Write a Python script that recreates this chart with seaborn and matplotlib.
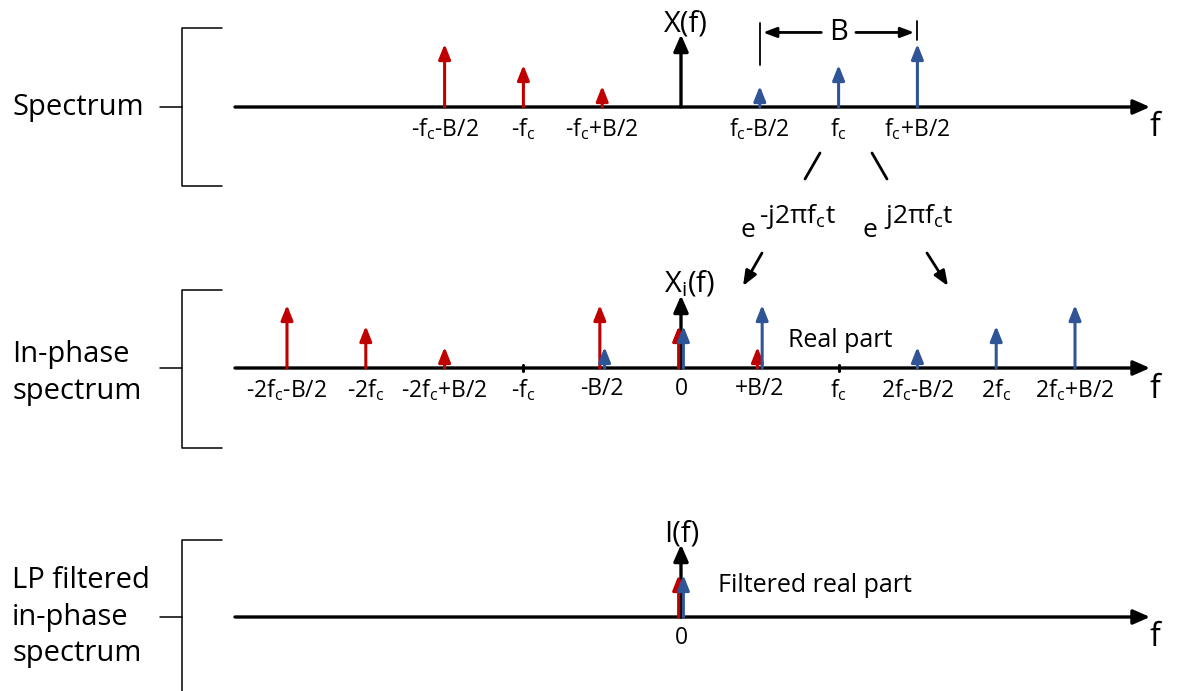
import pandas as pd
import matplotlib.pyplot as plt
import seaborn as sns

# ---------------- DATA ---------------- #
# x positions are on an index grid, one step = B/2 ; amplitudes are relative
spec_red_pos = [-3, -2, -1]
spec_red_amp = [3, 2, 1]
spec_blue_pos = [1, 2, 3]
spec_blue_amp = [1, 2, 3]
spec_tick_pos = [-3, -2, -1, 1, 2, 3]
spec_tick_lab = ['-f$_c$-B/2', '-f$_c$', '-f$_c$+B/2', 'f$_c$-B/2', 'f$_c$', 'f$_c$+B/2']

inph_red_pos = [-5, -4, -3, -1, 0, 1]
inph_red_amp = [3, 2, 1, 3, 2, 1]
inph_blue_pos = [-1, 0, 1, 3, 4, 5]
inph_blue_amp = [1, 2, 3, 1, 2, 3]
inph_tick_pos = [-5, -4, -3, -2, -1, 0, 1, 2, 3, 4, 5]
inph_tick_lab = ['-2f$_c$-B/2', '-2f$_c$', '-2f$_c$+B/2', '-f$_c$', '-B/2', '0',
                 '+B/2', 'f$_c$', '2f$_c$-B/2', '2f$_c$', '2f$_c$+B/2']
inph_minor = [-2, 2]

lp_red_pos = [0]
lp_red_amp = [2]
lp_blue_pos = [0]
lp_blue_amp = [2]
lp_tick_pos = [0]
lp_tick_lab = ['0']

panel_names = ['Spectrum', 'In-phase\nspectrum', 'LP filtered\nin-phase\nspectrum']
axis_names = ['X(f)', 'X$_i$(f)', 'I(f)']

# ---------------- STYLE ---------------- #
sns.set_theme(style="white")
plt.rcParams['font.family'] = ['Open Sans', 'DejaVu Sans']
plt.rcParams['text.color'] = 'black'
plt.rcParams['mathtext.fontset'] = 'custom'
plt.rcParams['mathtext.rm'] = 'Open Sans'
plt.rcParams['mathtext.it'] = 'Open Sans'
plt.rcParams['mathtext.bf'] = 'Open Sans:bold'

RED = '#C00000'
BLUE = '#2F5597'
W, H = 1179, 691
X0 = 681      # pixel of f = 0
UX = 78.8     # pixels per index step
UY = 21.0     # pixels per amplitude unit
baselines = [107, 368, 617]

fig = plt.figure(figsize=(W / 100, H / 100), dpi=100)

# decoration layer in pixel coordinates
deco = fig.add_axes([0, 0, 1, 1])
deco.set_xlim(0, W)
deco.set_ylim(H, 0)
deco.axis('off')


def arrow(ax, x0, y0, x1, y1, color, lw, hl=0.45, hw=0.18):
    ax.annotate('', xy=(x1, y1), xytext=(x0, y0),
                arrowprops=dict(arrowstyle=f'-|>,head_length={hl},head_width={hw}',
                                color=color, lw=lw, shrinkA=0, shrinkB=0,
                                mutation_scale=20))


def panel(yb, red_pos, red_amp, blue_pos, blue_amp, tick_pos, tick_lab, name, minor=()):
    ax = fig.add_axes([0, 0, 1, 1])
    ax.set_xlim(-X0 / UX, (W - X0) / UX)
    ax.set_ylim(-(H - yb) / UY, yb / UY)
    ax.axis('off')
    ax.patch.set_alpha(0)

    # frequency axis and amplitude axis
    arrow(ax, (235 - X0) / UX, 0, (1150 - X0) / UX, 0, 'black', 2.4, 0.5, 0.22)
    arrow(ax, 0, 0, 0, 3.45, 'black', 2.4, 0.5, 0.22)

    df = pd.concat([
        pd.DataFrame({'pos': red_pos, 'amp': red_amp, 'color': RED}),
        pd.DataFrame({'pos': blue_pos, 'amp': blue_amp, 'color': BLUE}),
    ])
    shared = set(red_pos) & set(blue_pos)
    for _, r in df.iterrows():
        dx = 0.0
        if r['pos'] in shared:
            dx = -0.03 if r['color'] == RED else 0.03
        arrow(ax, r['pos'] + dx, 0, r['pos'] + dx, r['amp'], r['color'], 2.2)

    for m in minor:
        ax.plot([m, m], [-0.15, 0.15], color='black', lw=2.2)

    for p, lab in zip(tick_pos, tick_lab):
        ax.text(p, -0.45, lab, ha='center', va='top', fontsize=16.5)

    ax.text((1155 - X0) / UX, -1.0, 'f', ha='center', va='center', fontsize=23)
    ax.text(-0.22, 3.6, name, ha='left', va='baseline', fontsize=21)
    return ax


ax1 = panel(baselines[0], spec_red_pos, spec_red_amp, spec_blue_pos, spec_blue_amp,
            spec_tick_pos, spec_tick_lab, axis_names[0])
ax2 = panel(baselines[1], inph_red_pos, inph_red_amp, inph_blue_pos, inph_blue_amp,
            inph_tick_pos, inph_tick_lab, axis_names[1], inph_minor)
ax3 = panel(baselines[2], lp_red_pos, lp_red_amp, lp_blue_pos, lp_blue_amp,
            lp_tick_pos, lp_tick_lab, axis_names[2])

# bandwidth marker B between fc-B/2 and fc+B/2
ax1.plot([1, 1], [2.0, 4.0], color='black', lw=1.3)
ax1.plot([3, 3], [3.2, 4.1], color='black', lw=1.3)
arrow(ax1, 1.78, 3.55, 1.04, 3.55, 'black', 2.0, 0.4, 0.15)
arrow(ax1, 2.22, 3.55, 2.96, 3.55, 'black', 2.0, 0.4, 0.15)
ax1.text(2, 3.55, 'B', ha='center', va='center', fontsize=21)

# frequency shift annotations
deco.plot([820, 805], [153, 179], color='black', lw=2.0)
deco.plot([872, 887], [153, 179], color='black', lw=2.0)
deco.text(741, 237, 'e', ha='left', va='baseline', fontsize=19)
deco.text(759, 223, '-j2πf$_c$t', ha='left', va='baseline', fontsize=19)
deco.text(862, 237, 'e', ha='left', va='baseline', fontsize=19)
deco.text(884, 223, 'j2πf$_c$t', ha='left', va='baseline', fontsize=19)
arrow(deco, 762, 253, 743, 286, 'black', 2.0, 0.45, 0.18)
arrow(deco, 927, 253, 948, 286, 'black', 2.0, 0.45, 0.18)

deco.text(840, 340, 'Real part', ha='center', va='center', fontsize=18)
deco.text(718, 585, 'Filtered real part', ha='left', va='center', fontsize=18)

# panel brackets and names
tops = [28, 290, 540]
bottoms = [186, 448, 700]
name_shift = [0, 5, 0]
for yb, top, bot, name, dy in zip(baselines, tops, bottoms, panel_names, name_shift):
    deco.plot([222, 182, 182, 222], [top, top, bot, bot], color='black', lw=1.1)
    deco.plot([160, 182], [yb, yb], color='black', lw=1.1)
    deco.text(12, yb + dy, name, ha='left', va='center', fontsize=21, linespacing=1.33)

fig.savefig('out.png', dpi=100)
